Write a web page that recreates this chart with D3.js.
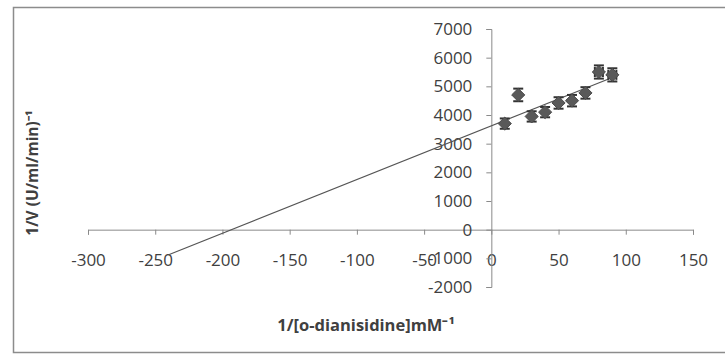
<!DOCTYPE html>
<html>
<head>
<meta charset="utf-8">
<script src="https://cdn.jsdelivr.net/npm/d3@7"></script>
<style>
  body { margin: 0; background: #fff; overflow: hidden; }
  svg { display: block; font-family: "Open Sans", sans-serif; }
</style>
</head>
<body>
<script>
// data
var xValues = [10, 20, 30, 40, 50, 60, 70, 80, 90];
var yValues = [3700, 4700, 3950, 4100, 4420, 4500, 4770, 5500, 5400];
var yErr = [180, 220, 180, 180, 200, 200, 200, 230, 230];
var xErr = [0, 0, 0, 0, 0, 0, 0, 3, 3];
var xTicks = [-300, -250, -200, -150, -100, -50, 0, 50, 100, 150];
var yTicks = [-2000, -1000, 0, 1000, 2000, 3000, 4000, 5000, 6000, 7000];
var trendFrom = -240, trendTo = 90;

var width = 725,
  height = 356;

var svg = d3.select('body')
  .append('svg')
  .attr('width', width)
  .attr('height', height);

// chart frame (right side runs off the picture)
svg.append('rect')
  .attr('x', 13.5).attr('y', 7.5)
  .attr('width', width + 20)
  .attr('height', 345)
  .attr('fill', 'none')
  .attr('stroke', '#8c8c8c')
  .attr('stroke-width', 1.5);

var xScale = d3.scaleLinear()
  .domain([-300, 150])
  .range([88, 693]);

var yScale = d3.scaleLinear()
  .domain([-2000, 7000])
  .range([287, 29]);

var fmt = function(d) { return String(d); };

// x axis through y = 0
var xAxis = svg.append('g')
  .attr('transform', `translate(0,${yScale(0)})`)
  .call(d3.axisBottom(xScale).tickValues(xTicks).tickFormat(fmt)
    .tickSizeOuter(0).tickSize(5).tickPadding(19));

// y axis through x = 0
var yAxis = svg.append('g')
  .attr('transform', `translate(${xScale(0)},0)`)
  .call(d3.axisLeft(yScale).tickValues(yTicks).tickFormat(fmt)
    .tickSizeOuter(0).tickSize(5).tickPadding(14));

[xAxis, yAxis].forEach(function(ax) {
  ax.select('.domain').attr('stroke', '#8a8a8a');
  ax.selectAll('.tick line').attr('stroke', '#8a8a8a');
  ax.selectAll('.tick text')
    .attr('fill', '#404040')
    .style('font-size', '17px')
    .style('font-family', '"Open Sans", sans-serif');
});

// linear trend line (least squares from the points)
var mx = d3.mean(xValues), my = d3.mean(yValues);
var sxy = d3.sum(xValues, function(d, i) { return (d - mx) * (yValues[i] - my); });
var sxx = d3.sum(xValues, function(d) { return (d - mx) * (d - mx); });
var slope = sxy / sxx, icpt = my - slope * mx;

svg.append('line')
  .attr('x1', xScale(trendFrom)).attr('y1', yScale(icpt + slope * trendFrom))
  .attr('x2', xScale(trendTo)).attr('y2', yScale(icpt + slope * trendTo))
  .attr('stroke', '#555')
  .attr('stroke-width', 1.2);

var pts = xValues.map(function(d, i) {
  return { x: d, y: yValues[i], ey: yErr[i], ex: xErr[i] };
});

// error bars
var eb = svg.selectAll('.err')
  .data(pts)
  .enter()
  .append('g')
  .attr('class', 'err')
  .attr('stroke', '#333')
  .attr('stroke-width', 2);

eb.append('line')
  .attr('x1', function(d) { return xScale(d.x); })
  .attr('x2', function(d) { return xScale(d.x); })
  .attr('y1', function(d) { return yScale(d.y - d.ey); })
  .attr('y2', function(d) { return yScale(d.y + d.ey); });
eb.append('line')
  .attr('x1', function(d) { return xScale(d.x) - 5; })
  .attr('x2', function(d) { return xScale(d.x) + 5; })
  .attr('y1', function(d) { return yScale(d.y + d.ey); })
  .attr('y2', function(d) { return yScale(d.y + d.ey); });
eb.append('line')
  .attr('x1', function(d) { return xScale(d.x) - 5; })
  .attr('x2', function(d) { return xScale(d.x) + 5; })
  .attr('y1', function(d) { return yScale(d.y - d.ey); })
  .attr('y2', function(d) { return yScale(d.y - d.ey); });

var ebx = eb.filter(function(d) { return d.ex > 0; });
ebx.append('line')
  .attr('x1', function(d) { return xScale(d.x - d.ex); })
  .attr('x2', function(d) { return xScale(d.x + d.ex); })
  .attr('y1', function(d) { return yScale(d.y); })
  .attr('y2', function(d) { return yScale(d.y); });
ebx.append('line')
  .attr('x1', function(d) { return xScale(d.x - d.ex); })
  .attr('x2', function(d) { return xScale(d.x - d.ex); })
  .attr('y1', function(d) { return yScale(d.y) - 5; })
  .attr('y2', function(d) { return yScale(d.y) + 5; });
ebx.append('line')
  .attr('x1', function(d) { return xScale(d.x + d.ex); })
  .attr('x2', function(d) { return xScale(d.x + d.ex); })
  .attr('y1', function(d) { return yScale(d.y) - 5; })
  .attr('y2', function(d) { return yScale(d.y) + 5; });

// diamond markers
svg.selectAll('.pt')
  .data(pts)
  .enter()
  .append('path')
  .attr('class', 'pt')
  .attr('d', d3.symbol().type(d3.symbolDiamond2).size(110))
  .attr('transform', function(d) { return `translate(${xScale(d.x)},${yScale(d.y)})`; })
  .attr('fill', '#595959')
  .attr('stroke', '#4a4a4a')
  .attr('stroke-width', 1);

// axis titles
svg.append('text')
  .attr('x', 366).attr('y', 331)
  .attr('text-anchor', 'middle')
  .style('font-size', '16.5px')
  .style('font-weight', 'bold')
  .attr('fill', '#404040')
  .text('1/[o-dianisidine]mM⁻¹');

svg.append('text')
  .attr('transform', 'translate(38,173) rotate(-90)')
  .attr('text-anchor', 'middle')
  .style('font-size', '15.5px')
  .style('font-weight', 'bold')
  .attr('fill', '#404040')
  .text('1/V (U/ml/min)⁻¹');
</script>
</body>
</html>
